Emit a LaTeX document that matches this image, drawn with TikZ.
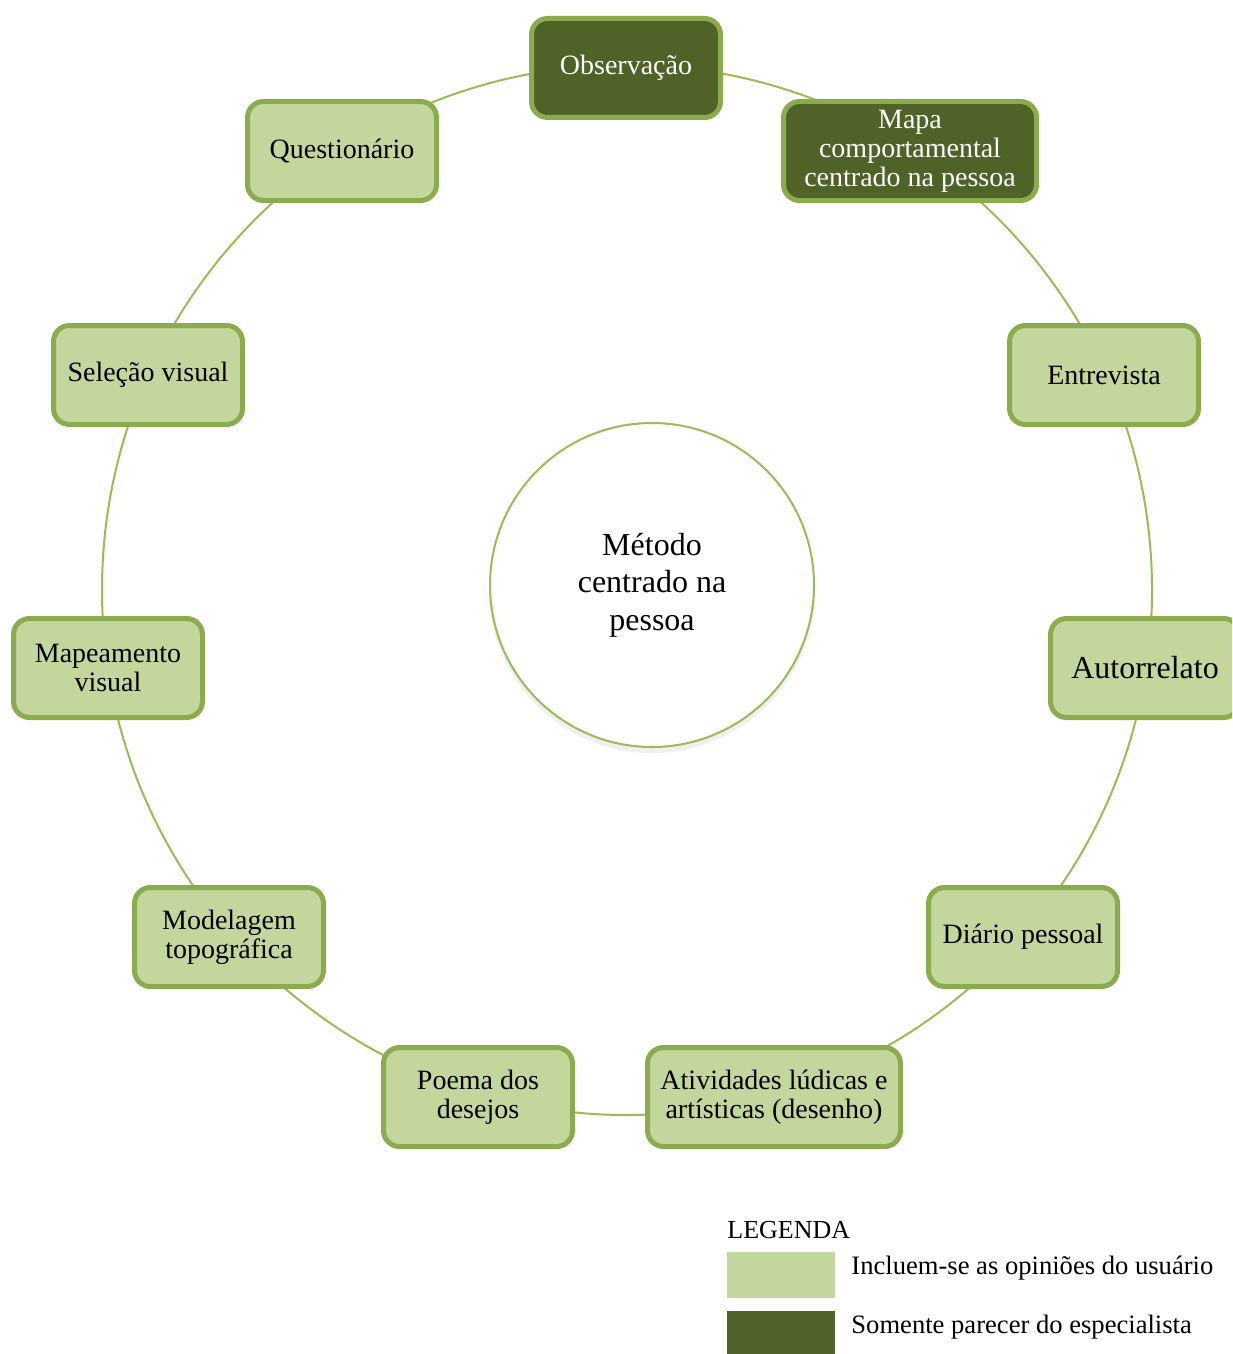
\documentclass[tikz,border=0pt]{standalone}
\usepackage{fontspec}
\setmainfont{Liberation Serif}
\definecolor{lightfill}{HTML}{C3D69B}
\definecolor{darkfill}{HTML}{4F6228}
\definecolor{boxborder}{HTML}{8CAA4E}
\definecolor{ringline}{HTML}{9BBB59}
\begin{document}
\begin{tikzpicture}[x=0.5pt,y=-0.5pt,
  box/.style={draw=boxborder,line width=2.5pt,rounded corners=8pt,align=center,
     minimum width=94.5pt,minimum height=49.5pt,inner sep=2pt,
     font=\fontsize{14}{14.5}\selectfont},
  lightbox/.style={box,fill=lightfill,text=black},
  darkbox/.style={box,fill=darkfill,text=white},
  widebox/.style={minimum width=126.5pt},
  ring/.style={draw=ringline,line width=1pt},
  legtext/.style={anchor=west,inner sep=0pt,font=\fontsize{13.3}{15}\selectfont}]
\useasboundingbox (0,0) rectangle (1232,1354);
\begin{scope}
\clip (0,0) rectangle (1232,1354);
\coordinate (ringc) at (627,590);
\draw[ring] (ringc) circle [radius=262.5pt];
% center shadow and circle
\fill[black!6] (652,590) circle [radius=81.5pt];
\node[circle,draw=ringline,line width=1pt,fill=white,minimum size=162pt,align=center,
  font=\fontsize{16}{18.75}\selectfont] (center) at (652,585) {Método\\centrado na\\pessoa};
\node[darkbox] (obs) at (626,68) {Observação};
\node[darkbox,widebox] (mapa) at (910,151) {Mapa\\comportamental\\centrado na pessoa};
\node[lightbox] (entr) at (1104,375) {Entrevista};
\node[lightbox,font=\fontsize{16}{17}\selectfont] (auto) at (1145,668) {Autorrelato};
\node[lightbox] (diario) at (1023,937) {Diário pessoal};
\node[lightbox,widebox] (ativ) at (774,1097) {Atividades lúdicas e\\artísticas (desenho)};
\node[lightbox] (poema) at (478,1097) {Poema dos\\desejos};
\node[lightbox] (model) at (229,937) {Modelagem\\topográfica};
\node[lightbox] (mapeam) at (108,668) {Mapeamento\\visual};
\node[lightbox] (selec) at (148,375) {Seleção visual};
\node[lightbox] (quest) at (342,151) {Questionário};
% legend
\node[anchor=west,inner sep=0pt,font=\fontsize{13}{15}\selectfont] (legtitle) at (727,1230) {LEGENDA};
\node[fill=lightfill,minimum width=54pt,minimum height=23pt,inner sep=0pt,anchor=north west] (sw1) at (727,1252) {};
\node[fill=darkfill,minimum width=54pt,minimum height=23pt,inner sep=0pt,anchor=north west] (sw2) at (727,1311) {};
\node[legtext] (lt1) at (851,1268) {Incluem-se as opiniões do usuário};
\node[legtext] (lt2) at (851,1327) {Somente parecer do especialista};
\end{scope}
\end{tikzpicture}
\end{document}
